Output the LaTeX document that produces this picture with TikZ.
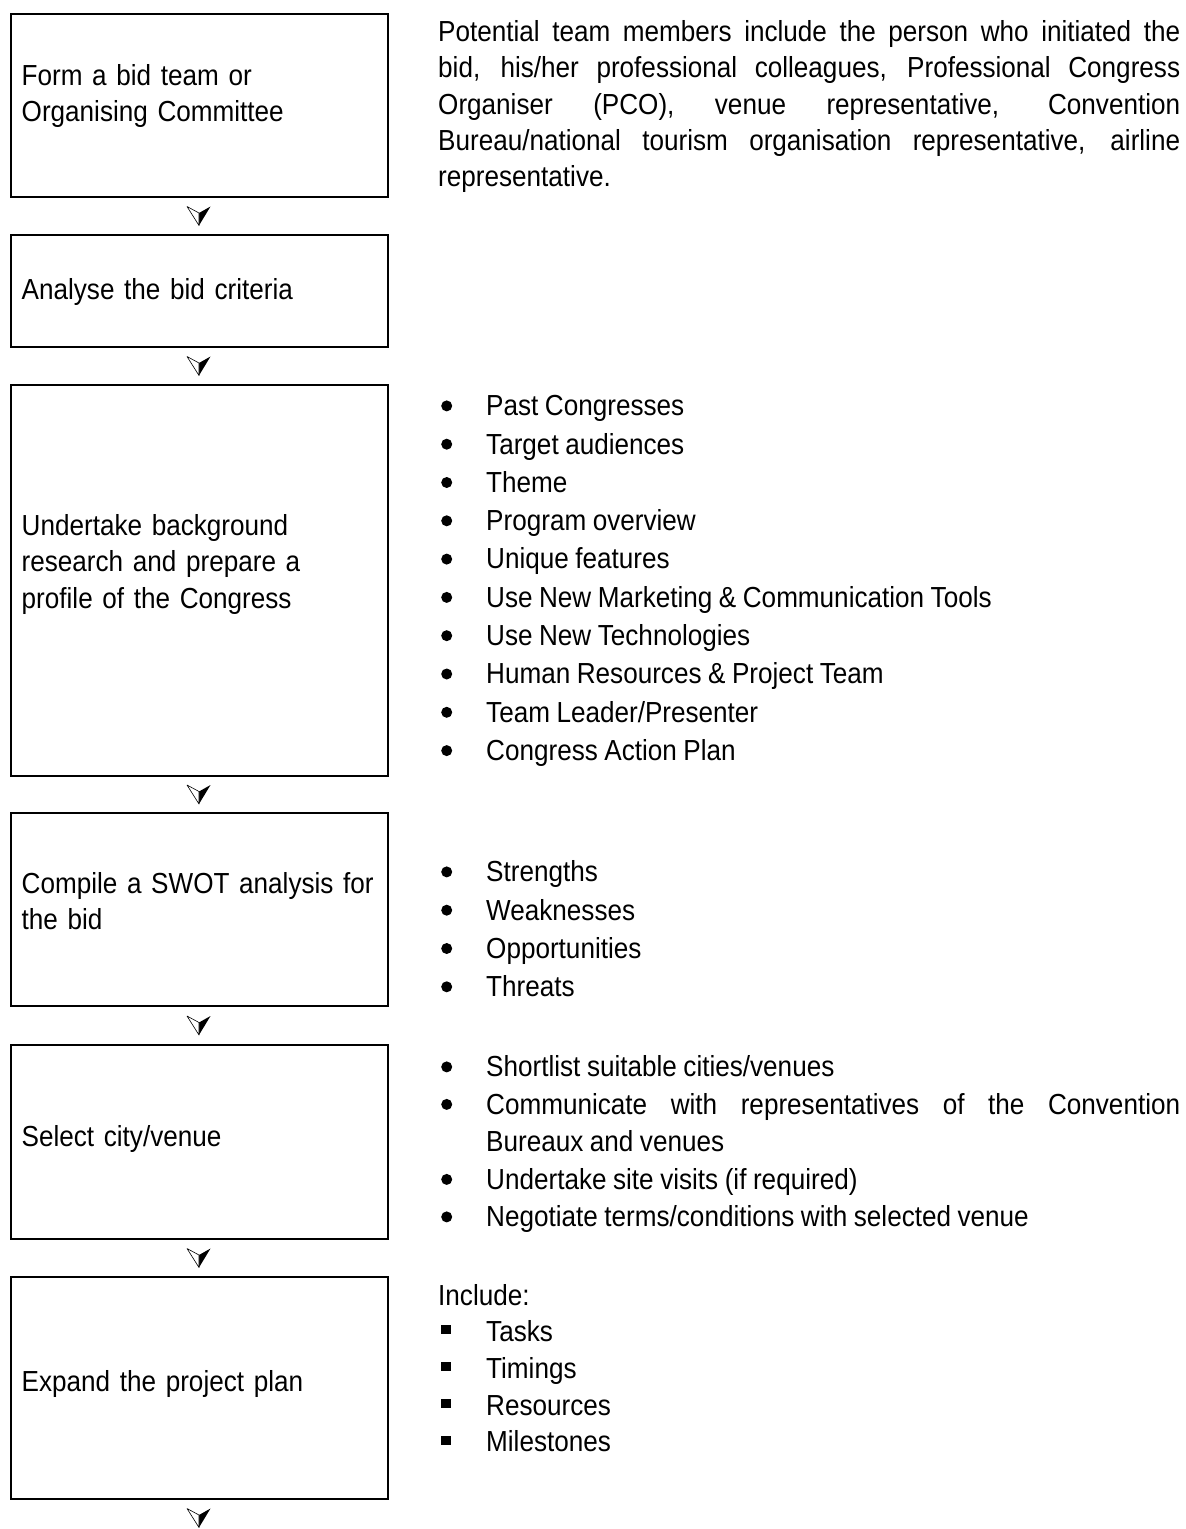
\documentclass[tikz,border=0pt]{standalone}
\usepackage{fontspec}
\setmainfont[FakeStretch=0.9,WordSpace=0.9]{Liberation Sans}
\newcommand\cbul{\tikz[baseline=0pt]\fill[black] (5.5pt,9.8pt) circle (5.5pt);}
\newcommand\sbul{\tikz[baseline=0pt]\fill[black] (0pt,7.3pt) rectangle (9.5pt,16.3pt);}
\newcommand\bitem[2]{\hangindent=48pt\hangafter=1\makebox[48pt][l]{\hspace{3pt}#1}#2\par}
\newcommand\nohyph{\tolerance=9999\relax\hyphenpenalty=10000\relax}
\begin{document}
\begin{tikzpicture}[x=1pt,y=-1pt,
  box/.style={draw=black, line width=2pt, inner sep=0pt, anchor=north west, minimum width=377pt},
  lbl/.style={anchor=base west, inner sep=0pt, text width=360pt, align=left, font=\fontsize{29}{36.5}\selectfont},
  para/.style={anchor=base west, inner sep=0pt, text width=742pt, align=justify, font=\fontsize{29}{36.2}\selectfont\nohyph},
  lst/.style={anchor=base west, inner sep=0pt, text width=742pt, align=justify, font=\fontsize{29}{#1}\selectfont\nohyph},
  darr/.pic={
    \fill[black] (0,-3) -- (11.5,-9.5) -- (0,9.5) -- cycle;
    \draw[black, line width=0.6pt, line join=round, fill=white] (0,-3) -- (-12,-9.5) -- (0,9.5) -- cycle;
  }]
\fill[white] (0,0) rectangle (1186,1529);
\useasboundingbox (0,0) rectangle (1186,1529);

% boxes
\node[box, minimum height=183.5pt] (b1) at (9.5,12.5) {};
\node[box, minimum height=112pt]   (b2) at (9.5,234) {};
\node[box, minimum height=391pt]   (b3) at (9.5,384) {};
\node[box, minimum height=193pt]   (b4) at (9.5,812) {};
\node[box, minimum height=194pt]   (b5) at (9.5,1044) {};
\node[box, minimum height=222pt]   (b6) at (9.5,1276) {};

% box texts
\node[lbl] (t1) at (21.5,85) {Form a bid team or\\Organising Committee};
\node[lbl] (t2) at (21.5,299) {Analyse the bid criteria};
\node[lbl] (t3) at (21.5,535) {Undertake background\\research and prepare a\\profile of the Congress};
\node[lbl] (t4) at (21.5,893) {Compile a SWOT analysis for\\the bid};
\node[lbl] (t5) at (21.5,1146) {Select city/venue};
\node[lbl] (t6) at (21.5,1391.7) {Expand the project plan};

% connectors (arrowheads only)
\path (b1.south) -- (b2.north) coordinate[midway] (m1);
\path (b2.south) -- (b3.north) coordinate[midway] (m2);
\path (b3.south) -- (b4.north) coordinate[midway] (m3);
\path (b4.south) -- (b5.north) coordinate[midway] (m4);
\path (b5.south) -- (b6.north) coordinate[midway] (m5);
\path (b6.south) ++(0,36) coordinate (e6);
\path (b6.south) -- (e6) coordinate[midway] (m6);
\foreach \m in {m1,m2,m3,m4,m5,m6} { \pic at (\m) {darr}; }

% right column
\node[para] (p1) at (438,41.7) {Potential team members include the person who initiated the\linebreak
bid, his/her professional colleagues, Professional Congress\linebreak
Organiser (PCO), venue representative, Convention\linebreak
Bureau/national tourism organisation representative, airline\linebreak
representative.};

\node[lst=38.3] (l3) at (438,415.7) {%
\bitem{\cbul}{Past Congresses}%
\bitem{\cbul}{Target audiences}%
\bitem{\cbul}{Theme}%
\bitem{\cbul}{Program overview}%
\bitem{\cbul}{Unique features}%
\bitem{\cbul}{Use New Marketing \& Communication Tools}%
\bitem{\cbul}{Use New Technologies}%
\bitem{\cbul}{Human Resources \& Project Team}%
\bitem{\cbul}{Team Leader/Presenter}%
\bitem{\cbul}{Congress Action Plan}};

\node[lst=38.3] (l4) at (438,881.7) {%
\bitem{\cbul}{Strengths}%
\bitem{\cbul}{Weaknesses}%
\bitem{\cbul}{Opportunities}%
\bitem{\cbul}{Threats}};

\node[lst=37.5] (l5) at (438,1076.7) {%
\bitem{\cbul}{Shortlist suitable cities/venues}%
\bitem{\cbul}{Communicate with representatives of the Convention\linebreak Bureaux and venues}%
\bitem{\cbul}{Undertake site visits (if required)}%
\bitem{\cbul}{Negotiate terms/conditions with selected venue}};

\node[lst=36.7] (l6) at (438,1305) {%
Include:\par
\bitem{\sbul}{Tasks}%
\bitem{\sbul}{Timings}%
\bitem{\sbul}{Resources}%
\bitem{\sbul}{Milestones}};
\end{tikzpicture}
\end{document}
